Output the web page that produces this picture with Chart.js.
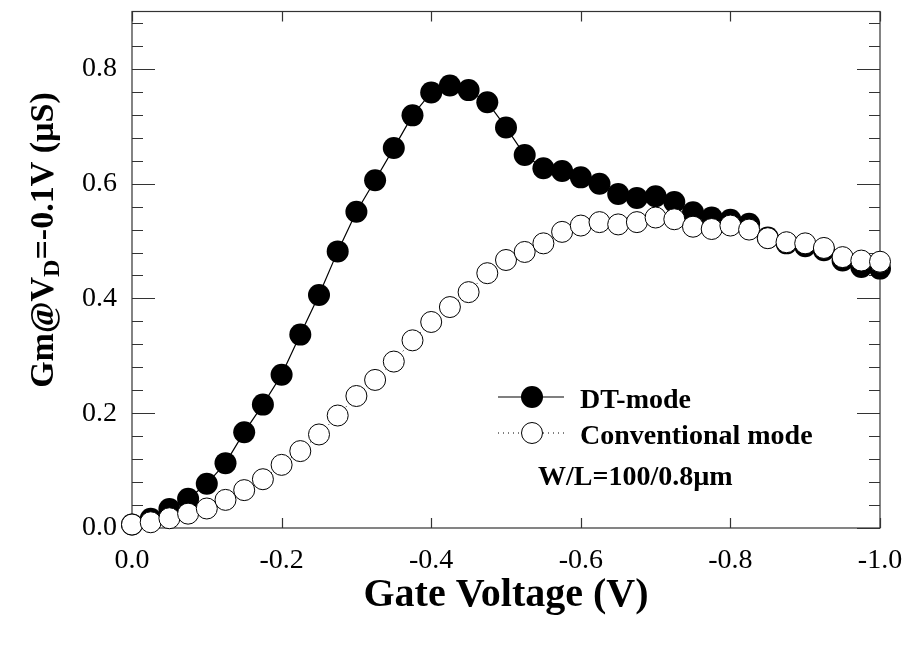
<!DOCTYPE html>
<html>
<head>
<meta charset="utf-8">
<script src="https://cdn.jsdelivr.net/npm/chart.js@4.4.1/dist/chart.umd.min.js"></script>
<style>
  html, body { margin: 0; padding: 0; background: #fff; }
  #wrap { width: 906px; height: 646px; }
</style>
</head>
<body>
<div id="wrap"><canvas id="chart" width="906" height="646"></canvas></div>
<script>
/* Gm vs gate voltage, DT-mode vs conventional mode (W/L=100/0.8um) */

const gateVoltage = [
  0.000, -0.025, -0.050, -0.075, -0.100, -0.125, -0.150, -0.175, -0.200, -0.225,
  -0.250, -0.275, -0.300, -0.325, -0.350, -0.375, -0.400, -0.425, -0.450, -0.475,
  -0.500, -0.525, -0.550, -0.575, -0.600, -0.625, -0.650, -0.675, -0.700, -0.725,
  -0.750, -0.775, -0.800, -0.825, -0.850, -0.875, -0.900, -0.925, -0.950, -0.975,
  -1.000
];

const dtMode = [
  0.006, 0.016, 0.033, 0.051, 0.077, 0.113, 0.167, 0.215, 0.267, 0.337,
  0.406, 0.482, 0.551, 0.606, 0.662, 0.719, 0.759, 0.771, 0.763, 0.742,
  0.698, 0.650, 0.627, 0.622, 0.611, 0.600, 0.582, 0.575, 0.578, 0.568,
  0.550, 0.541, 0.537, 0.530, 0.506, 0.496, 0.491, 0.484, 0.466, 0.455,
  0.452
];

const convMode = [
  0.006, 0.010, 0.017, 0.025, 0.034, 0.049, 0.066, 0.085, 0.110, 0.134,
  0.163, 0.196, 0.230, 0.258, 0.290, 0.327, 0.359, 0.385, 0.411, 0.444,
  0.467, 0.481, 0.496, 0.516, 0.527, 0.533, 0.529, 0.533, 0.541, 0.538,
  0.525, 0.521, 0.527, 0.520, 0.505, 0.498, 0.496, 0.488, 0.472, 0.466,
  0.464
];

const xTicks = [0, -0.2, -0.4, -0.6, -0.8, -1.0];
const yTicks = [0, 0.2, 0.4, 0.6, 0.8];
const yMinorTicks = [0.04, 0.08, 0.12, 0.16, 0.24, 0.28, 0.32, 0.36, 0.44, 0.48,
  0.52, 0.56, 0.64, 0.68, 0.72, 0.76, 0.84, 0.88];

const seriesNames = ["DT-mode", "Conventional mode"];
const noteText = "W/L=100/0.8\u00b5m";

const SERIF = "'Liberation Serif', 'Times New Roman', serif";

function toPoints(ys) {
  return gateVoltage.map((x, i) => ({ x: x, y: ys[i] }));
}

// frame + inward tick marks on all four sides
const framePlugin = {
  id: "frame",
  beforeDatasetsDraw(chart) {
    const { ctx, chartArea: a, scales } = chart;
    ctx.save();
    ctx.strokeStyle = "#333";
    ctx.lineWidth = 1.2;
    ctx.strokeRect(a.left, a.top, a.right - a.left, a.bottom - a.top);
    ctx.beginPath();
    xTicks.forEach(v => {
      const px = Math.round(scales.x.getPixelForValue(v)) + 0.5;
      ctx.moveTo(px, a.bottom); ctx.lineTo(px, a.bottom - 10);
      ctx.moveTo(px, a.top); ctx.lineTo(px, a.top + 10);
    });
    yTicks.forEach(v => {
      const py = Math.round(scales.y.getPixelForValue(v)) + 0.5;
      ctx.moveTo(a.left, py); ctx.lineTo(a.left + 23, py);
      ctx.moveTo(a.right, py); ctx.lineTo(a.right - 23, py);
    });
    yMinorTicks.forEach(v => {
      const py = Math.round(scales.y.getPixelForValue(v)) + 0.5;
      ctx.moveTo(a.left, py); ctx.lineTo(a.left + 11, py);
      ctx.moveTo(a.right, py); ctx.lineTo(a.right - 11, py);
    });
    ctx.stroke();
    ctx.restore();
  }
};

// axis titles and legend box
const labelsPlugin = {
  id: "labels",
  afterDraw(chart) {
    const { ctx, chartArea: a } = chart;
    ctx.save();
    ctx.fillStyle = "#000";

    // x title
    ctx.font = "bold 40px " + SERIF;
    ctx.textAlign = "center";
    ctx.textBaseline = "alphabetic";
    ctx.fillText("Gate Voltage (V)", (a.left + a.right) / 2, 606);

    // y title with subscript D
    const big = "bold 34px " + SERIF;
    const small = "bold 24px " + SERIF;
    const parts = [
      { t: "Gm@V", f: big, dy: 0 },
      { t: "D", f: small, dy: 6 },
      { t: "=-0.1V (\u00b5S)", f: big, dy: 0 }
    ];
    let total = 0;
    parts.forEach(p => { ctx.font = p.f; p.w = ctx.measureText(p.t).width; total += p.w; });
    ctx.translate(53, 240);
    ctx.rotate(-Math.PI / 2);
    ctx.textAlign = "left";
    let cx = -total / 2;
    parts.forEach(p => {
      ctx.font = p.f;
      ctx.fillText(p.t, cx, p.dy);
      cx += p.w;
    });
    ctx.setTransform(1, 0, 0, 1, 0, 0);

    // legend
    const dsDT = chart.data.datasets[1];
    const dsCV = chart.data.datasets[0];
    ctx.strokeStyle = "#000";
    ctx.lineWidth = 1.2;
    ctx.beginPath();
    ctx.moveTo(498, 397); ctx.lineTo(564, 397);
    ctx.stroke();
    ctx.beginPath();
    ctx.arc(532, 397, dsDT.pointRadius, 0, Math.PI * 2);
    ctx.fillStyle = "#000";
    ctx.fill();

    ctx.setLineDash([1, 4]);
    ctx.lineWidth = 1;
    ctx.beginPath();
    ctx.moveTo(498, 433); ctx.lineTo(564, 433);
    ctx.stroke();
    ctx.setLineDash([]);
    ctx.beginPath();
    ctx.arc(532, 433, dsCV.pointRadius, 0, Math.PI * 2);
    ctx.fillStyle = "#fff";
    ctx.fill();
    ctx.stroke();

    ctx.fillStyle = "#000";
    ctx.font = "bold 28px " + SERIF;
    ctx.textAlign = "left";
    ctx.fillText(dsDT.label, 580, 408);
    ctx.fillText(dsCV.label, 580, 444);
    ctx.fillText(noteText, 538, 485);
    ctx.restore();
  }
};

new Chart(document.getElementById("chart"), {
  type: "scatter",
  data: {
    datasets: [
      {
        label: seriesNames[1],
        data: toPoints(convMode),
        showLine: true,
        borderColor: "#000",
        borderWidth: 1,
        borderDash: [1, 4],
        pointRadius: 10.5,
        pointBackgroundColor: "#fff",
        pointBorderColor: "#000",
        pointBorderWidth: 1,
        order: 0,
        clip: false
      },
      {
        label: seriesNames[0],
        data: toPoints(dtMode),
        showLine: true,
        borderColor: "#000",
        borderWidth: 1.2,
        pointRadius: 11,
        pointBackgroundColor: "#000",
        pointBorderColor: "#000",
        pointBorderWidth: 0,
        order: 1,
        clip: false
      }
    ]
  },
  options: {
    responsive: false,
    animation: false,
    devicePixelRatio: 1,
    layout: { padding: { left: 0, right: 26, top: 9, bottom: 0 } },
    plugins: {
      legend: { display: false },
      tooltip: { enabled: false }
    },
    scales: {
      x: {
        type: "linear",
        min: -1,
        max: 0,
        reverse: true,
        bounds: "data",
        grid: { display: false, drawTicks: false },
        border: { display: false },
        afterBuildTicks: s => { s.ticks = xTicks.map(v => ({ value: v })); },
        ticks: {
          padding: 16,
          color: "#000",
          font: { family: SERIF, size: 28 },
          maxRotation: 0,
          callback: v => Number(v).toFixed(1)
        },
        afterFit: s => {
          s.height = 118;
          s.paddingLeft = 0; s.paddingRight = 0;
        }
      },
      y: {
        type: "linear",
        min: 0,
        max: 0.9,
        bounds: "data",
        grid: { display: false, drawTicks: false },
        border: { display: false },
        afterBuildTicks: s => { s.ticks = yTicks.map(v => ({ value: v })); },
        ticks: {
          padding: 15,
          color: "#000",
          font: { family: SERIF, size: 28 },
          callback: v => Number(v).toFixed(1)
        },
        afterFit: s => {
          s.width = 132;
          s.paddingTop = 0; s.paddingBottom = 0;
        }
      }
    }
  },
  plugins: [framePlugin, labelsPlugin]
});
</script>
</body>
</html>
